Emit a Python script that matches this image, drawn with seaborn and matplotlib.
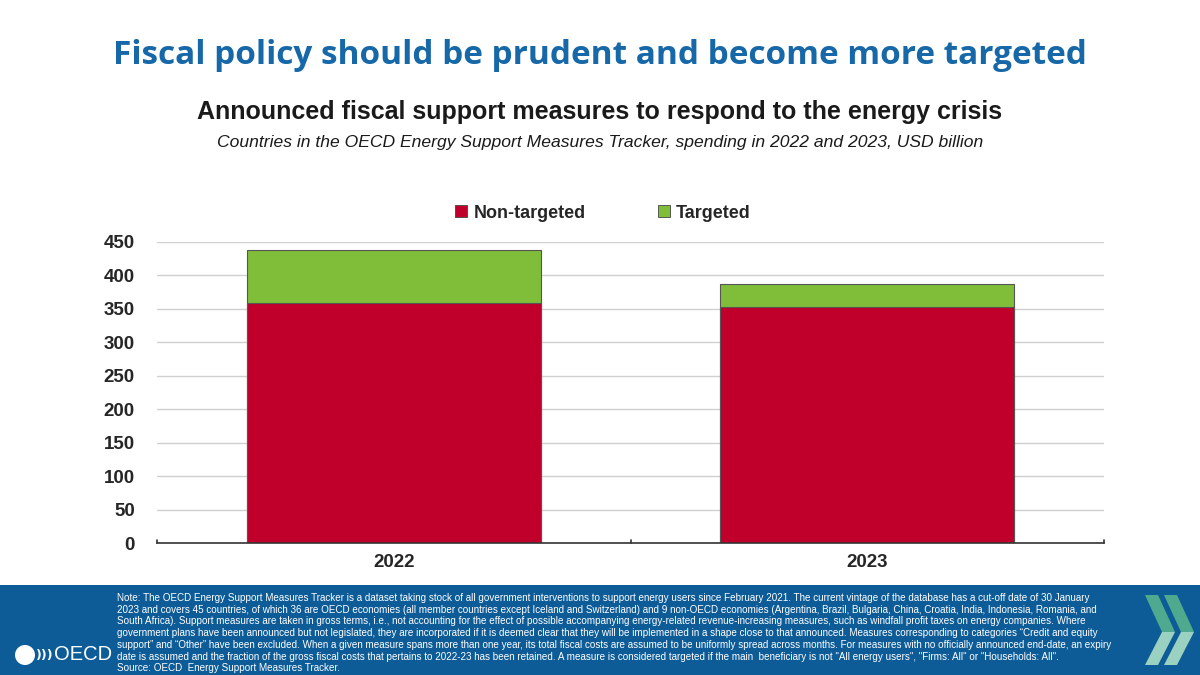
import matplotlib
matplotlib.use("Agg")
import matplotlib.pyplot as plt
from matplotlib.patches import Rectangle, Polygon, Ellipse
import seaborn as sns
import pandas as pd

years = ["2022", "2023"]
non_targeted = [359, 353]
targeted = [79, 34]
series_names = ["Non-targeted", "Targeted"]
y_ticks = [0, 50, 100, 150, 200, 250, 300, 350, 400, 450]

note_lines = [
    "Note: The OECD Energy Support Measures Tracker is a dataset taking stock of all government interventions to support energy users since February 2021. The current vintage of the database has a cut-off date of 30 January",
    "2023 and covers 45 countries, of which 36 are OECD economies (all member countries except Iceland and Switzerland) and 9 non-OECD economies (Argentina, Brazil, Bulgaria, China, Croatia, India, Indonesia, Romania, and",
    "South Africa). Support measures are taken in gross terms, i.e., not accounting for the effect of possible accompanying energy-related revenue-increasing measures, such as windfall profit taxes on energy companies. Where",
    "government plans have been announced but not legislated, they are incorporated if it is deemed clear that they will be implemented in a shape close to that announced. Measures corresponding to categories \u201cCredit and equity",
    "support\u201d and \u201cOther\u201d have been excluded. When a given measure spans more than one year, its total fiscal costs are assumed to be uniformly spread across months. For measures with no officially announced end-date, an expiry",
    "date is assumed and the fraction of the gross fiscal costs that pertains to 2022-23 has been retained. A measure is considered targeted if the main  beneficiary is not \"All energy users\", \"Firms: All\" or \"Households: All\".",
    "Source: OECD  Energy Support Measures Tracker.",
]

red = "#C0002A"
green = "#80BE3A"
title_blue = "#1668A8"
band_blue = "#0D5C97"

sns.set_theme(style="white")
plt.rcParams["font.family"] = ["Liberation Sans", "DejaVu Sans"]

df = pd.DataFrame({"year": years, "non_targeted": non_targeted, "targeted": targeted})
df["total"] = df["non_targeted"] + df["targeted"]

fig = plt.figure(figsize=(12, 6.75), dpi=100)
ax = fig.add_axes([157 / 1200, 132 / 675, 947 / 1200, 301 / 675])

sns.barplot(data=df, x="year", y="total", color=green, width=0.62,
            edgecolor="#555555", linewidth=0.8, saturation=1, ax=ax)
sns.barplot(data=df, x="year", y="non_targeted", color=red, width=0.62,
            edgecolor="#555555", linewidth=0.8, saturation=1, ax=ax)

ax.set_ylim(0, 450)
ax.set_xlim(-0.5, 1.5)
ax.set_yticks(y_ticks)
ax.set_yticklabels([str(t) for t in y_ticks], fontsize=13.5, fontweight="bold")
ax.tick_params(axis="x", labelsize=13.5, length=0, pad=8)
for lab in ax.get_xticklabels():
    lab.set_fontweight("bold")
ax.tick_params(axis="y", length=0, pad=16)
ax.yaxis.grid(True, color="#D0D0D0", linewidth=1)
ax.set_axisbelow(True)
ax.set_xlabel("")
ax.set_ylabel("")
for s in ["top", "right", "left"]:
    ax.spines[s].set_visible(False)
ax.spines["bottom"].set_color("#333333")
ax.spines["bottom"].set_linewidth(1.2)
# small tick marks on category boundaries
for xb in [-0.5, 0.5, 1.5]:
    ax.plot([xb, xb], [0, 5], color="#333333", linewidth=1.2, clip_on=False)

# legend
handles = [Rectangle((0, 0), 1, 1, facecolor=red, edgecolor="#444444", linewidth=0.6),
           Rectangle((0, 0), 1, 1, facecolor=green, edgecolor="#444444", linewidth=0.6)]
fig.legend(handles, series_names, loc="center", bbox_to_anchor=(603 / 1200, 1 - 213 / 675),
           ncol=2, frameon=False, handlelength=0.65, handleheight=0.65, handletextpad=0.35,
           columnspacing=4.0, prop={"size": 13, "weight": "bold"})

# titles
fig.text(0.5, 1 - 55 / 675, "Fiscal policy should be prudent and become more targeted",
         ha="center", va="center", fontsize=24, fontweight="bold", color=title_blue,
         family=["Open Sans", "DejaVu Sans"])
fig.text(0.5, 1 - 112 / 675, "Announced fiscal support measures to respond to the energy crisis",
         ha="center", va="center", fontsize=18, fontweight="bold", color="#1a1a1a",
         family=["Liberation Sans", "DejaVu Sans"])
fig.text(0.5, 1 - 142 / 675,
         "Countries in the OECD Energy Support Measures Tracker, spending in 2022 and 2023, USD billion",
         ha="center", va="center", fontsize=12.6, style="italic", color="#1a1a1a",
         family=["Liberation Sans", "DejaVu Sans"])

# footer band
fig.patches.append(Rectangle((0, 0), 1, 90 / 675, transform=fig.transFigure,
                             facecolor=band_blue, edgecolor="none", zorder=0))
for i, line in enumerate(note_lines):
    fig.text(117 / 1200, 1 - (598 + i * 11.7) / 675, line, ha="left", va="center",
             fontsize=7.15, color="white")

# OECD logo
fig.patches.append(Ellipse((25 / 1200, 1 - 655 / 675), 20 / 1200, 20 / 675,
                           transform=fig.transFigure, facecolor="white", edgecolor="none"))
fig.text(36 / 1200, 1 - 655 / 675, ")))", ha="left", va="center", fontsize=9,
         color="white", fontweight="bold", family=["DejaVu Sans"])
fig.text(54 / 1200, 1 - 655 / 675, "OECD", ha="left", va="center", fontsize=14.5,
         color="white", family=["Liberation Sans", "DejaVu Sans"])

# chevrons on the right
def chevron(x0):
    top = [(x0, 595), (x0 + 13, 595), (x0 + 30, 632), (x0 + 17, 632)]
    bot = [(x0 + 17, 632), (x0 + 30, 632), (x0 + 13, 665), (x0, 665)]
    for pts, col in [(top, "#4FA98F"), (bot, "#9AD1C0")]:
        fig.patches.append(Polygon([(x / 1200, 1 - y / 675) for x, y in pts], closed=True,
                                   transform=fig.transFigure, facecolor=col, edgecolor="none"))

chevron(1145)
chevron(1164)

fig.savefig("out.png", dpi=100)
